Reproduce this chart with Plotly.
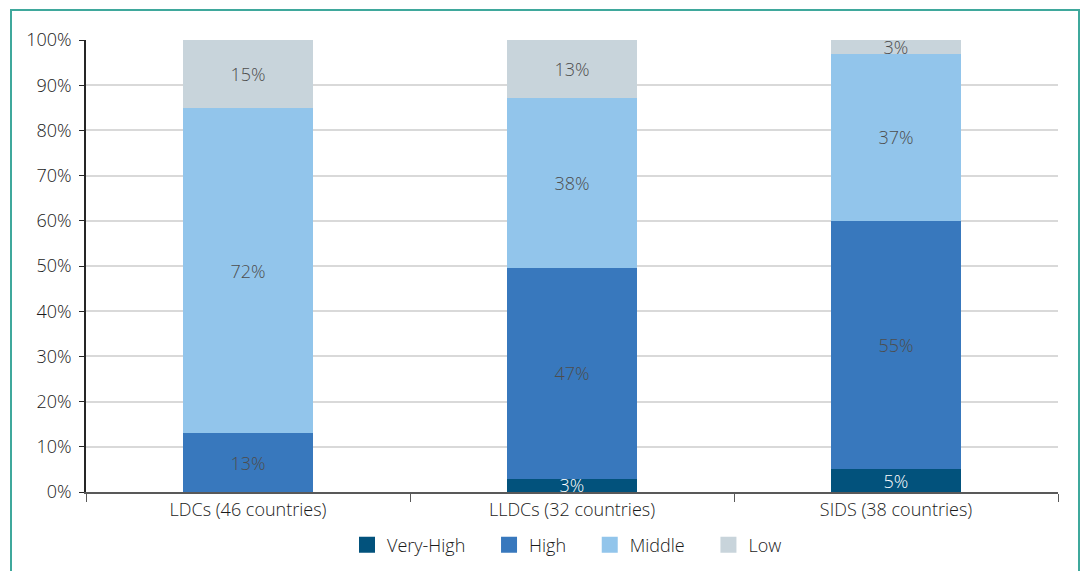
import plotly.graph_objects as go

categories = ["LDCs (46 countries)", "LLDCs (32 countries)", "SIDS (38 countries)"]
very_high = [0, 3, 5]
high = [13, 47, 55]
middle = [72, 38, 37]
low = [15, 13, 3]

series = [
    ("Very-High", very_high, "#02527C", "#FFFFFF"),
    ("High", high, "#3878BD", "#4D4D4D"),
    ("Middle", middle, "#92C5EB", "#4D4D4D"),
    ("Low", low, "#C8D4DB", "#4D4D4D"),
]

FONT = "Open Sans"
FS = 18
fig = go.Figure()
for name, vals, color, tcol in series:
    fig.add_trace(go.Bar(
        name=name, x=categories, y=vals,
        text=[f"{v}%" if v > 0 else "" for v in vals],
        textposition="inside", insidetextanchor="middle",
        textfont=dict(family=FONT, size=FS, color=tcol, weight=300),
        marker=dict(color=color, line=dict(width=0)),
        width=0.4, showlegend=False,
    ))
# legend entries with larger square swatches
PAD = "\u00a0" * 4
for i, (name, vals, color, tcol) in enumerate(series):
    label = name + (PAD if i < len(series) - 1 else "")
    fig.add_trace(go.Scatter(
        name=label, x=[None], y=[None], mode="markers",
        marker=dict(symbol="square", size=17, color=color),
    ))

W, H = 1081, 571
L, R, T, B = 86, 1058, 40, 492
pw, ph = R - L, B - T

def px(x):
    return (x - L) / pw

def py(y):
    return (B - y) / ph

fig.update_layout(
    barmode="stack", barnorm="percent",
    width=W, height=H,
    margin=dict(l=L, r=W - R, t=T, b=H - B, autoexpand=False),
    paper_bgcolor="white", plot_bgcolor="white",
    font=dict(family=FONT, size=FS, color="#1A1A1A", weight=300),
    uniformtext=dict(minsize=FS, mode="show"),
    legend=dict(orientation="h", x=px(567), xanchor="center",
                yref="container", y=(H - 545) / H, yanchor="middle",
                font=dict(size=FS, color="#1A1A1A"), traceorder="normal",
                itemwidth=30, tracegroupgap=0),
    xaxis=dict(type="category", tickson="boundaries", ticks="outside", ticklen=8,
               tickcolor="#595959", showline=True, linecolor="#595959", linewidth=2,
               showgrid=False, tickfont=dict(size=FS), automargin=False,
               ticklabelstandoff=0),
    yaxis=dict(range=[0, 100], dtick=10, ticksuffix="%", ticks="outside", ticklen=5,
               tickcolor="#262626", showline=True, linecolor="#262626", linewidth=1.5,
               gridcolor="#D9D9D9", gridwidth=1.5, tickfont=dict(size=FS),
               zeroline=False, automargin=False, ticklabelstandoff=4),
    shapes=[dict(type="rect", xref="paper", yref="paper",
                 x0=px(11), x1=px(1079), y0=py(620), y1=py(10),
                 line=dict(color="#3FA89C", width=2), fillcolor="rgba(0,0,0,0)", layer="below")],
)

fig.write_html("out.html", config={"displayModeBar": False},
               post_script="document.body.style.margin='0';")
